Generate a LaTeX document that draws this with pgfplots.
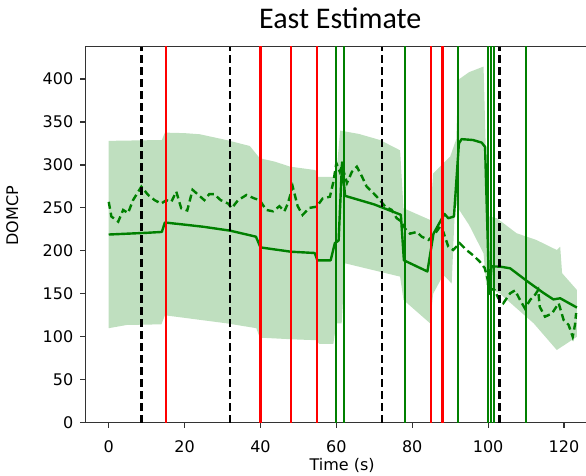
\documentclass[border=0pt]{standalone}
\usepackage{pgfplots}
\pgfplotsset{compat=1.18}
\usepackage{fontspec}
\setmainfont{DejaVu Sans}
\newfontfamily\titlefont{Carlito}
\definecolor{mgreen}{RGB}{0,128,0}
\definecolor{bandc}{RGB}{191,223,191}
\begin{document}
\begin{tikzpicture}[x=1pt,y=1pt]
\begin{axis}[
  at={(85.4pt,53.3pt)}, anchor=south west,
  scale only axis, width=513.3pt, height=376pt,
  xmin=-6.15, xmax=129.15, ymin=0, ymax=437.6,
  xtick={0,20,...,120}, ytick={0,50,...,400},
  xtick pos=bottom, ytick pos=left,
  tick align=outside, major tick length=5pt,
  every tick/.style={black!80, line width=1.2pt},
  axis line style={black!80, line width=1.3pt},
  /pgf/number format/assume math mode=true,
  tick label style={font=\fontsize{16}{18}\selectfont},
  xticklabel style={anchor=base, yshift=-25.3pt},
  yticklabel style={anchor=east, inner sep=0pt, xshift=-7pt},
  xlabel={Time (s)}, ylabel={DOMCP},
  label style={font=\fontsize{16}{18}\selectfont},
  xlabel style={at={(axis description cs:0.5,-0.126)}, anchor=base},
  ylabel style={at={(axis description cs:-0.131,0.55)}, anchor=base, rotate=0},
  title={East Estimate},
  title style={at={(axis description cs:0.4965,1.033)}, anchor=base, font=\titlefont\fontsize{30}{36}\selectfont},
  clip=true,
]
% uncertainty band (upper edge forward, lower edge backward)
\addplot[fill=bandc, draw=none] coordinates {
 (0,328) (14,329) (14.8,337.6) (20,337) (24,335.7) (31,329) (37.2,322) (39.8,307.8) (43.8,303.8) (47.8,298) (54.5,294) (55,286) (59,286) (60,290) (61,340) (66,336) (71.5,329) (76.8,317) (77.7,249.6) (84.7,236) (85.5,290) (88.2,302) (90,309.7) (91.6,330) (92.1,399) (95,408) (98.8,414.5) (99.5,300) (100.3,240) (102.3,238) (107.5,220.5) (112.7,212.7) (118.1,201) (119,205) (119.5,174) (123.4,154.5)
 (123.4,100) (118.1,84.6) (112,115.7) (103,150.6) (101.4,154.5) (100.5,162) (99.5,160) (98.8,197) (95,230) (91.3,255) (90.4,162) (88.2,172) (85.5,150) (84.7,115.7) (77.7,142.8) (76.8,170) (62.3,185.5) (61.4,115.7) (60,115.7) (59.2,91.6) (55.5,91.6) (54.7,96) (48.6,97) (39.8,99) (38.9,110) (31,115.7) (14.8,125) (13.9,114.5) (4.7,113.7) (0,110)
} -- cycle;
% estimate
\addplot[mgreen, line width=2.4pt, line join=round] coordinates {
 (0,219) (5,220) (10,221) (14,222) (14.8,233) (20,230.5) (25,228) (32,223.5) (38.8,216.5) (40,204) (44,201.5) (48,199) (54.3,197.5) (55,189) (58.5,189) (59.6,209) (60.6,212) (61.5,303) (62.3,264) (70,254) (77,242) (77.8,189) (84,176) (85.6,220) (88.5,243) (89.5,238) (91,240) (92.3,325) (93,330) (96,329) (98.3,326) (99.2,321) (100.3,150) (100.9,182) (103.2,181.6) (105.8,179.7) (110.2,165) (114.6,151) (117.2,143.5) (119,144.8) (123.4,134)
};
% measurement
\addplot[mgreen, line width=2.4pt, dash pattern=on 7pt off 4pt] coordinates {
 (0,257) (0.7,240) (2.5,234) (3.8,247.6) (5.1,244) (6.4,259) (8.6,274.7) (10.4,265) (12.1,259) (13.8,255) (15.2,259) (16.5,257) (17.8,269) (19.1,249.6) (20.7,247) (22.1,271) (23.4,266) (25.2,259) (26.5,266) (27.8,266) (29.5,259) (31.5,255) (32.4,249.6) (34.1,259) (36.3,265) (38.4,261) (39.8,259) (41.5,247.6) (43.3,246) (45,252) (46.3,246) (47.2,255) (48.5,274.7) (49.8,252) (51.1,241.8) (52.9,250) (54.8,251.4) (56.4,261) (58.3,263) (59.2,280) (60,302) (60.9,292) (61.5,299) (62.8,279) (64.1,292) (65.4,298) (66.8,286) (68,274.7) (69.8,267) (71.5,259) (72.9,251.4) (74.6,247.6) (75.9,238) (77.2,234) (78.1,226) (79.4,220) (81.2,222) (82.5,216.5) (84.3,212.7) (86,220) (87.3,228) (88.2,222) (89.5,205) (90.8,201) (92.5,209) (94.3,201) (96,195) (97.8,187.5) (99.1,180) (100.5,156.5) (101.8,154) (102.7,144.8) (104,139) (105.8,150.6) (107.1,154) (108.4,143) (109.7,133) (111.1,143) (112.4,149) (113.2,154.5) (113.6,135) (115,123.4) (116.8,127) (118.6,139) (119.9,119.6) (121.2,114) (122.3,100) (122.9,114) (123.2,127.6)
};
% event lines
\pgfplotsinvokeforeach{60,62,78,92,100,100.8,101.6,110}{
  \addplot[mgreen, line width=2pt] coordinates {(#1,-10) (#1,500)};
}
\pgfplotsinvokeforeach{15,40,48,55,85,88}{
  \addplot[red, line width=2.2pt] coordinates {(#1,-10) (#1,500)};
}
\pgfplotsinvokeforeach{8.6,32,72,103}{
  \addplot[black, line width=2.4pt, dash pattern=on 8pt off 4pt] coordinates {(#1,0) (#1,437.6)};
}
\end{axis}
\pgfresetboundingbox
\path[use as bounding box] (0,0) rectangle (586,476);
\end{tikzpicture}
\end{document}
